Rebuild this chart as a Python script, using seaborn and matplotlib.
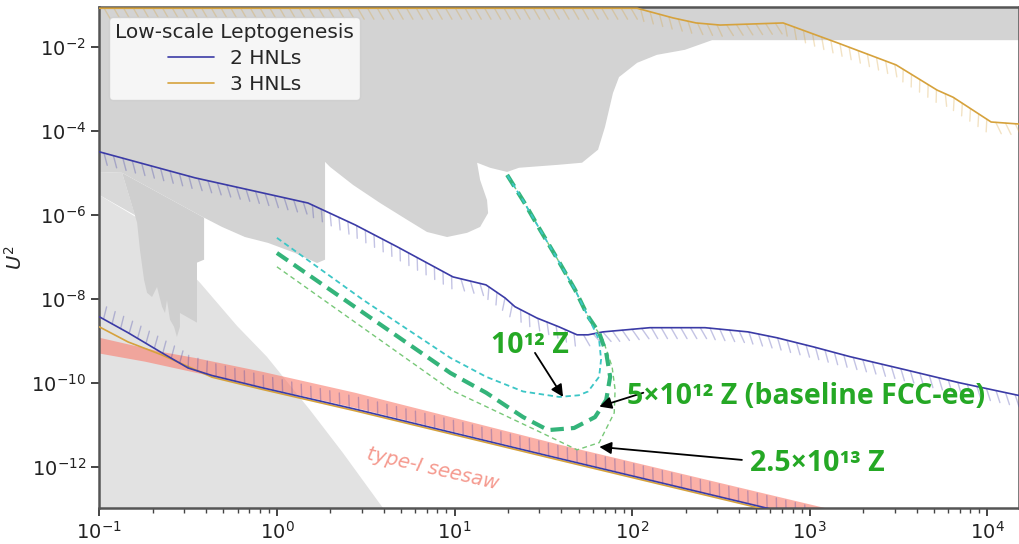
import numpy as np
import matplotlib
matplotlib.use("Agg")
import matplotlib.pyplot as plt
import matplotlib.patheffects as pe
from matplotlib.lines import Line2D
from matplotlib.ticker import NullLocator
import seaborn as sns

# ---------------------------------------------------------------
# Values are log10(M / GeV) and log10(U^2)
# ---------------------------------------------------------------
log_m_range = (-1.0, 4.178)
log_u2_range = (-12.976, -1.04)

# Shaded areas already excluded
main_excl_logm = [-1.02, 4.3, 4.3, 2.450, 2.297, 2.139, 2.028, 1.926, 1.892, 1.847,
                  1.808, 1.718, 1.583, 1.363, 1.296, 1.200, 1.127, 1.144, 1.183, 1.189,
                  1.144, 1.071, 0.958, 0.845, 0.733, 0.581, 0.429, 0.299, 0.271, 0.271,
                  0.226, 0.102, -0.050, -0.180, -0.309, -0.410, -0.872, -1.02]
main_excl_logu2 = [0.0, 0.0, -1.83, -1.83, -2.06, -2.18, -2.37, -2.71, -3.09, -3.90,
                   -4.44, -4.75, -4.80, -4.87, -4.97, -4.87, -4.75, -5.16, -5.64, -5.95,
                   -6.28, -6.42, -6.52, -6.40, -6.11, -5.71, -5.28, -4.85, -4.73, -7.06,
                   -7.14, -6.90, -6.66, -6.52, -6.28, -6.06, -4.99, -4.97]

bbn_logm = [-1.02, -0.787, -0.433, -0.224, -0.057, 0.186, 0.371, 0.596, 0.65, -1.02]
bbn_logu2 = [-5.47, -6.06, -7.61, -8.64, -9.37, -10.64, -11.66, -12.97, -13.2, -13.2]

overlap_logm = [-1.02, -0.872, -0.799, -1.02]
overlap_logu2 = [-4.97, -4.99, -6.00, -5.47]

dump_logm = [-0.872, -0.787, -0.771, -0.748, -0.731, -0.703, -0.675, -0.647, -0.630,
             -0.619, -0.602, -0.579, -0.563, -0.546, -0.546, -0.450, -0.450, -0.410, -0.410]
dump_logu2 = [-4.99, -6.18, -6.83, -7.54, -7.85, -7.95, -7.71, -8.18, -8.33,
              -8.02, -8.49, -8.66, -8.90, -8.66, -8.33, -8.56, -7.13, -7.06, -6.06]

# Type-I seesaw band
seesaw_hi_logm = [-1.02, -0.647, -0.461, -0.083, 0.44, 1.594, 3.06, 3.3]
seesaw_hi_logu2 = [-8.90, -9.26, -9.40, -9.73, -10.23, -11.47, -12.95, -13.2]
seesaw_lo_logm = [-1.02, -0.742, -0.461, -0.083, 0.44, 1.594, 2.72, 3.0]
seesaw_lo_logu2 = [-9.28, -9.49, -9.75, -10.09, -10.59, -11.78, -12.94, -13.23]

# Leptogenesis: upper and lower edges of the viable region
hnl2_up_logm = [-1.0, -0.461, 0.175, 0.44, 0.676, 0.991, 1.177, 1.284, 1.340, 1.464,
                1.588, 1.690, 1.752, 1.836, 2.100, 2.410, 2.652, 2.815, 3.023, 3.226,
                3.536, 3.840, 4.183]
hnl2_up_logu2 = [-4.49, -5.11, -5.71, -6.23, -6.75, -7.47, -7.66, -7.97, -8.18, -8.45,
                 -8.66, -8.85, -8.85, -8.78, -8.68, -8.68, -8.78, -8.92, -9.14, -9.37,
                 -9.68, -9.99, -10.30]
hnl2_lo_logm = [-1.0, -0.838, -0.647, -0.50, -0.365, -0.083, 0.44, 1.594, 2.72, 3.0]
hnl2_lo_logu2 = [-8.42, -8.80, -9.28, -9.64, -9.82, -10.11, -10.62, -11.80, -12.94, -13.23]

hnl3_up_logm = [-1.0, 2.028, 2.23, 2.36, 2.495, 2.85, 3.16, 3.486, 3.717, 3.807, 4.021, 4.184]
hnl3_up_logu2 = [-1.07, -1.07, -1.30, -1.42, -1.47, -1.42, -1.90, -2.42, -3.02, -3.19, -3.78, -3.83]
hnl3_lo_logm = [-1.0, -0.838, -0.647, -0.461, -0.365, -0.083, 0.44, 1.594, 2.72, 3.0]
hnl3_lo_logu2 = [-8.66, -9.02, -9.33, -9.68, -9.86, -10.15, -10.66, -11.84, -12.98, -13.27]

# FCC-ee sensitivity contours for three numbers of Z decays
fcc_1e12_logm = [0.0, 0.486, 0.977, 1.178, 1.386, 1.589, 1.70, 1.752, 1.814, 1.825,
                 1.814, 1.75, 1.679, 1.58, 1.482, 1.39, 1.296]
fcc_1e12_logu2 = [-6.54, -8.02, -9.40, -9.85, -10.20, -10.33, -10.29, -10.20, -9.85, -9.44,
                  -8.97, -8.40, -7.78, -7.05, -6.35, -5.68, -5.04]
fcc_5e12_logm = [0.0, 0.977, 1.178, 1.386, 1.527, 1.673, 1.791, 1.854, 1.876, 1.854,
                 1.814, 1.75, 1.679, 1.58, 1.482, 1.39, 1.296]
fcc_5e12_logu2 = [-6.90, -9.76, -10.23, -10.81, -11.12, -11.07, -10.81, -10.40, -9.85, -9.28,
                  -8.80, -8.40, -7.78, -7.05, -6.35, -5.68, -5.04]
fcc_25e12_logm = [0.0, 0.977, 1.178, 1.488, 1.69, 1.814, 1.899, 1.904, 1.887, 1.836,
                  1.75, 1.679, 1.58, 1.482, 1.39, 1.296]
fcc_25e12_logu2 = [-7.23, -10.16, -10.56, -11.18, -11.59, -11.42, -10.71, -10.16, -9.61, -8.97,
                   -8.40, -7.78, -7.05, -6.35, -5.68, -5.04]

legend_title = "Low-scale Leptogenesis"
legend_labels = ["2 HNLs", "3 HNLs"]

BLUE = "#3b3ba6"
GOLD = "#d6a23c"
TXT_GREEN = "#25a825"


def p(vals):
    return np.power(10.0, np.asarray(vals, dtype=float))


sns.set_style("ticks")
fig = plt.figure(figsize=(10.19, 5.44), dpi=100)
ax = fig.add_axes([99.3 / 1019, 36 / 544, 919.7 / 1019, 501 / 544])
ax.set_xscale("log")
ax.set_yscale("log")

# excluded regions
ax.fill(p(bbn_logm), p(bbn_logu2), color="#e2e2e2", lw=0, zorder=1)
ax.fill(p(overlap_logm), p(overlap_logu2), color="#d9d9d9", lw=0, zorder=1)
ax.fill(p(dump_logm), p(dump_logu2), color="#cfcfcf", lw=0, zorder=1)
ax.fill(p(main_excl_logm), p(main_excl_logu2), color="#d3d3d3", lw=0, zorder=1)

# seesaw band
band_m = np.concatenate([p(seesaw_hi_logm), p(seesaw_lo_logm)[::-1]])
band_u = np.concatenate([p(seesaw_hi_logu2), p(seesaw_lo_logu2)[::-1]])
ax.fill(band_m, band_u, color="salmon", alpha=0.62, lw=0, zorder=2)


def ticked(angle, color):
    return [pe.TickedStroke(spacing=7, angle=angle, length=1.3, alpha=0.3,
                            foreground=color, linewidth=1.0),
            pe.Normal()]


def curve(xs, ys, **kw):
    sns.lineplot(x=p(xs), y=p(ys), sort=False, estimator=None, ax=ax, **kw)


curve(hnl3_up_logm, hnl3_up_logu2, color=GOLD, lw=1.2, zorder=4,
      path_effects=ticked(-60, GOLD))
curve(hnl3_lo_logm, hnl3_lo_logu2, color=GOLD, lw=1.2, zorder=4)
curve(hnl2_up_logm, hnl2_up_logu2, color=BLUE, lw=1.2, zorder=5,
      path_effects=ticked(-60, BLUE))
curve(hnl2_lo_logm, hnl2_lo_logu2, color=BLUE, lw=1.2, zorder=5,
      path_effects=ticked(105, BLUE))

# FCC-ee reach
ax.plot(p(fcc_25e12_logm), p(fcc_25e12_logu2), color="#78c878", lw=1.0,
        linestyle=(0, (3.5, 2.5)), zorder=6)
ax.plot(p(fcc_5e12_logm), p(fcc_5e12_logu2), color="#34b47a", lw=3.0,
        linestyle=(0, (3.2, 1.7)), zorder=6)
ax.plot(p(fcc_1e12_logm), p(fcc_1e12_logu2), color="#3cc6c6", lw=1.3,
        linestyle=(0, (3, 2)), zorder=7)

# annotations
arrow = dict(arrowstyle="-|>", color="black", lw=1.3, mutation_scale=18,
             shrinkA=0, shrinkB=0)
ax.annotate("", xy=(p(1.611), p(-10.33)), xytext=(p(1.453), p(-9.28)),
            arrowprops=arrow, zorder=8)
ax.annotate("", xy=(p(1.815), p(-10.56)), xytext=(p(2.063), p(-10.23)),
            arrowprops=arrow, zorder=8)
ax.annotate("", xy=(p(1.815), p(-11.52)), xytext=(p(2.618), p(-11.83)),
            arrowprops=arrow, zorder=8)

green_font = dict(color=TXT_GREEN, fontsize=20.5, fontweight="bold",
                  family=["Open Sans", "DejaVu Sans"], va="center", zorder=9)
ax.text(p(1.426), p(-9.11), "10¹² Z", ha="center", **green_font)
ax.text(p(1.971), p(-10.33), "5×10¹² Z (baseline FCC-ee)", ha="left", **green_font)
ax.text(p(2.664), p(-11.92), "2.5×10¹³ Z", ha="left", **green_font)

ax.text(p(0.88), p(-12.04), "type-I seesaw", color="#f59a8f", fontsize=14,
        style="italic", rotation=-13, rotation_mode="anchor",
        ha="center", va="center", zorder=3)

# axes cosmetics
ax.set_xlim(p(log_m_range[0]), p(log_m_range[1]))
ax.set_ylim(p(log_u2_range[0]), p(log_u2_range[1]))
ax.set_yticks([1e-12, 1e-10, 1e-8, 1e-6, 1e-4, 1e-2])
ax.yaxis.set_minor_locator(NullLocator())
ax.tick_params(which="major", length=6, width=1.4, color="#444444",
               labelsize=14, labelcolor="#222222")
ax.tick_params(which="minor", length=3.5, width=1.0, color="#444444")
for s in ax.spines.values():
    s.set_color("#555555")
    s.set_linewidth(1.8)
ax.set_xlabel("")
ax.set_ylabel("$U^2$", fontsize=14)
ax.yaxis.set_label_coords(-0.080, 0.5)

handles = [Line2D([], [], color=BLUE, lw=1.2), Line2D([], [], color=GOLD, lw=1.2)]
leg = ax.legend(handles, legend_labels, title=legend_title, loc="upper left",
                fontsize=14.5, title_fontsize=14.5, handlelength=2.3,
                labelspacing=0.35, borderpad=0.3, framealpha=0.8,
                edgecolor="0.8", fancybox=True)
leg.set_zorder(10)

fig.savefig("out.png", dpi=100)
